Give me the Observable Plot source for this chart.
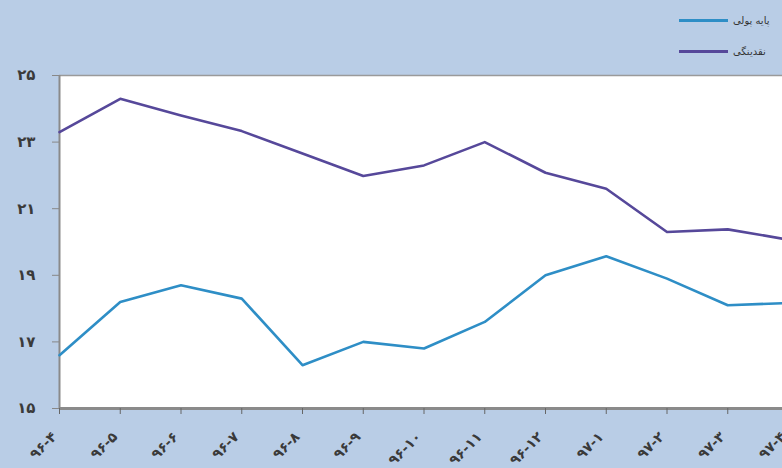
<!DOCTYPE html>
<html><head><meta charset="utf-8">
<script src="https://cdn.jsdelivr.net/npm/d3@7"></script>
<script src="https://cdn.jsdelivr.net/npm/@observablehq/plot@0.6"></script>
<style>
html,body{margin:0;padding:0;background:#b9cde6;overflow:hidden;}
#wrap{position:relative;width:782px;height:468px;overflow:hidden;}
#legend{position:absolute;left:679px;top:5px;font-family:"DejaVu Sans",sans-serif;font-size:10px;color:#333;}
.row{display:flex;align-items:center;height:31px;}
.sw{width:49px;height:2.5px;margin-right:5px;}
</style></head><body><div id="wrap"><div id="chart"></div><div id="legend"></div></div>
<script>
const periods = ["۹۶-۴","۹۶-۵","۹۶-۶","۹۶-۷","۹۶-۸","۹۶-۹","۹۶-۱۰","۹۶-۱۱","۹۶-۱۲","۹۷-۱","۹۷-۲","۹۷-۳","۹۷-۴"];
const baseMoney = [16.6, 18.2, 18.7, 18.3, 16.3, 17.0, 16.8, 17.6, 19.0, 19.57, 18.9, 18.1, 18.17];
const liquidity = [23.3, 24.3, 23.8, 23.33, 22.66, 21.98, 22.3, 23.0, 22.08, 21.6, 20.3, 20.38, 20.07];
const yTicks = [15, 17, 19, 21, 23, 25];
const yTickLabels = ["۱۵","۱۷","۱۹","۲۱","۲۳","۲۵"];
const seriesNames = ["پایه پولی", "نقدینگی"];
const seriesColors = ["#2e8ec6", "#56489a"];

const rows = [];
periods.forEach((p, i) => {
  rows.push({period: p, value: baseMoney[i], series: seriesNames[0]});
  rows.push({period: p, value: liquidity[i], series: seriesNames[1]});
});

const chart = Plot.plot({
  width: 782, height: 468,
  marginLeft: 59, marginRight: 0, marginTop: 75, marginBottom: 60,
  style: {background: "transparent", fontFamily: "'DejaVu Sans', sans-serif", overflow: "hidden"},
  x: {type: "point", domain: periods, range: [59, 788], padding: 0, round: false, label: null},
  y: {domain: [15, 25], label: null},
  color: {domain: seriesNames, range: seriesColors},
  marks: [
    Plot.frame({fill: "white", stroke: null}),
    Plot.ruleY([25], {stroke: "#9a9a9a", strokeWidth: 1.5}),
    Plot.ruleY([15], {stroke: "#8a8a8a", strokeWidth: 3}),
    Plot.ruleX([periods[0]], {y1: 15, y2: 25, stroke: "#8a8a8a", strokeWidth: 2}),
    Plot.axisY({ticks: yTicks, tickFormat: d => yTickLabels[yTicks.indexOf(d)], tickSize: 7, tickPadding: 17, fontSize: 15, fontWeight: "bold", fill: "#3a3a3a", stroke: "#888", label: null}),
    Plot.axisX({text: null, tickSize: 6, stroke: "#666", label: null}),
    Plot.axisX({tickSize: 0, tickRotate: -45, tickPadding: 26, dx: -5, fontSize: 14, fontWeight: "bold", fill: "#3a3a3a", label: null}),
    Plot.line(rows, {x: "period", y: "value", stroke: "series", z: "series", strokeWidth: 2.6})
  ]
});
document.getElementById("chart").appendChild(chart);

const legend = document.getElementById("legend");
seriesNames.forEach((n, i) => {
  const r = document.createElement("div"); r.className = "row";
  const s = document.createElement("div"); s.className = "sw"; s.style.background = seriesColors[i];
  const t = document.createElement("span"); t.textContent = n; t.dir = "rtl";
  r.appendChild(s); r.appendChild(t); legend.appendChild(r);
});
</script></body></html>
